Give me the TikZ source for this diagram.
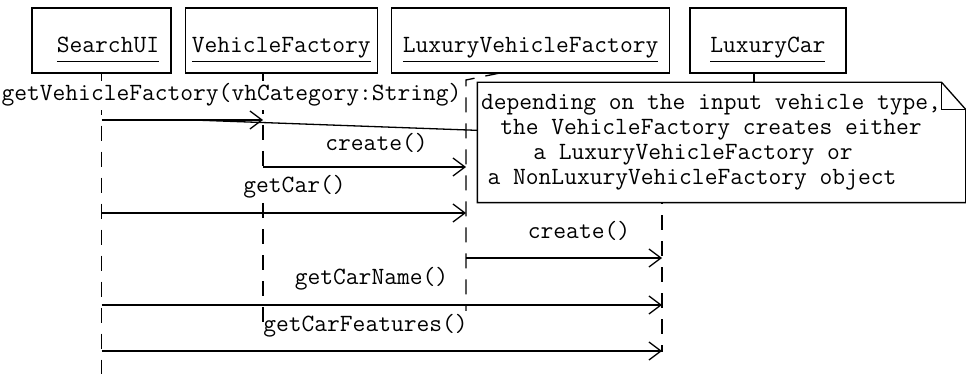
\documentclass[tikz,border=0pt]{standalone}
\usepackage{fontspec}
\usetikzlibrary{arrows.meta,positioning}
% underlined object name
\newcommand{\objul}[1]{\setbox0\hbox{#1}\rlap{\vrule height -8.2pt depth 9.5pt width \wd0}\box0}

\begin{document}
\begin{tikzpicture}[
    x=1pt, y=-1pt,
    line width=1.3pt,
    font=\ttfamily\fontsize{24.8pt}{25pt}\selectfont,
    obj/.style={draw, inner sep=0pt, minimum height=65pt, text height=25pt, text depth=0pt},
    life/.style={dash pattern=on 15pt off 11pt},
    msg/.style={fill=white, inner xsep=-1pt, inner ysep=3pt, anchor=base},
    call/.style={-{Straight Barb[length=12pt, width=18pt]}},
    note/.style={inner sep=0pt, minimum width=487pt, minimum height=119pt}
]
\useasboundingbox (0,0) rectangle (966,374);

% objects
\node[obj, minimum width=139pt] (searchui) at (101.5,40.5) {\hspace*{13pt}\objul{SearchUI}};
\node[obj, minimum width=192pt, right=13pt of searchui] (vfactory) {\objul{VehicleFactory}};
\node[obj, minimum width=278pt, right=13pt of vfactory] (lvfactory) {\objul{LuxuryVehicleFactory}};
\node[obj, minimum width=156pt, right=19pt of lvfactory] (luxcar) {\objul{LuxuryCar}};

% lifelines
\coordinate (uiend) at (101.5,374);
\coordinate (vftop) at (263,73);
\coordinate (vfend) at (263,328);
\coordinate (lvftop) at (500,73);
\coordinate (lvfbend) at (466,80);
\coordinate (lvfend) at (466,328);
\coordinate (lctop) at (754,73);
\coordinate (lcbend) at (662,90);
\coordinate (lcend) at (662,352);
\draw[life] (searchui.south) -- (uiend);
\draw[life] (vftop) -- (vfend);
\draw[life] (lvftop) -- (lvfbend) -- (lvfend);
\draw[life] (lctop) |- (lcbend) -- (lcend);

% messages
\node[msg] (m1) at (231.5,101) {getVehicleFactory(vhCategory:String)};
\draw[call] (uiend |- 0,120) -- (vfend |- 0,120);
\node[msg] (m2) at (376.5,151) {create()};
\draw[call] (vfend |- 0,167) -- (lvfend |- 0,167);
\node[msg] (m3) at (294.5,193) {getCar()};
\draw[call] (uiend |- 0,213) -- (lvfend |- 0,213);
\node[msg] (m4) at (579,238) {create()};
\draw[call] (lvfend |- 0,258) -- (lcend |- 0,258);
\node[msg] (m5) at (371.5,284) {getCarName()};
\draw[call] (uiend |- 0,305) -- (lcend |- 0,305);
\node[msg] (m6) at (365.5,331) {getCarFeatures()};
\draw[call] (uiend |- 0,351) -- (lcend |- 0,351);

% note
\node[note] (note) at (721.5,142.5) {};
\coordinate (anchor) at (193,120);
\draw (anchor) -- ([yshift=-48pt]note.north west);
\draw[fill=white] (note.north west) -- ([xshift=-24pt]note.north east) -- ([yshift=-27pt]note.north east)
    -- (note.south east) -- (note.south west) -- cycle;
\draw ([xshift=-24pt]note.north east) |- ([yshift=-27pt]note.north east);
\node[align=center] (notetext) at (711,142) {depending on the input vehicle type,\\the VehicleFactory creates either\\a LuxuryVehicleFactory or\kern36pt\\a NonLuxuryVehicleFactory object\kern38pt};
\end{tikzpicture}
\end{document}
